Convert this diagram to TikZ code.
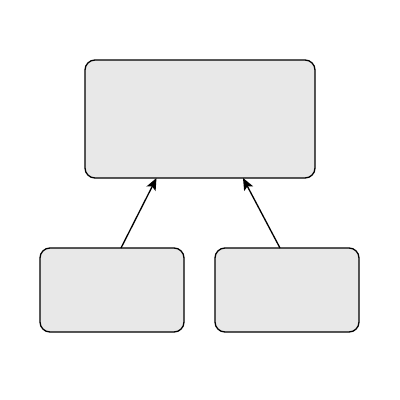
\documentclass[tikz,border=0pt]{standalone}
\usetikzlibrary{arrows.meta}
\begin{document}
\begin{tikzpicture}[x=1pt,y=-1pt,
  boxnode/.style={draw=black, line width=1.3pt, fill=black!9, rounded corners=10pt, inner sep=0pt},
  arr/.style={-{Stealth[length=12pt,width=10pt,inset=2.5pt]}, line width=1.3pt}]
\useasboundingbox[fill=white] (0,0) rectangle (400,400);
\node[boxnode, minimum width=230pt, minimum height=118pt] (top) at (200,119) {};
\node[boxnode, minimum width=144pt, minimum height=84pt] (bl) at (112,290) {};
\node[boxnode, minimum width=144pt, minimum height=84pt] (br) at (287,290) {};
\coordinate (blt) at (121,248);
\coordinate (brt) at (280,248);
\coordinate (t1) at (156.5,178);
\coordinate (t2) at (243,178);
\draw[arr] (blt) -- (t1);
\draw[arr] (brt) -- (t2);
\end{tikzpicture}
\end{document}
